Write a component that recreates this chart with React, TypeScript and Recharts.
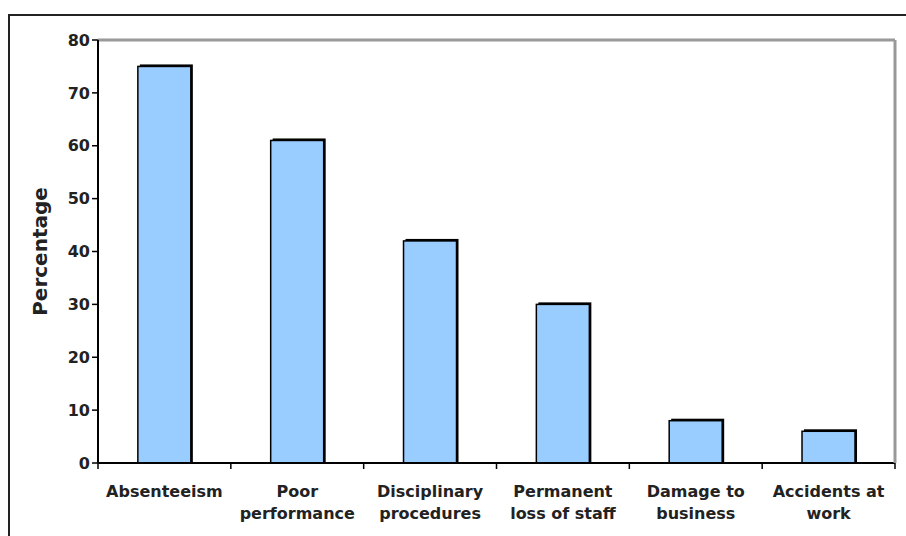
import React from "react"
import { BarChart, Bar, XAxis, YAxis, ReferenceLine } from "recharts"

const categories = [
  "Absenteeism",
  "Poor\nperformance",
  "Disciplinary\nprocedures",
  "Permanent\nloss of staff",
  "Damage to\nbusiness",
  "Accidents at\nwork",
]
const percentages = [75, 61, 42, 30, 8, 6]
const yTicks = [0, 10, 20, 30, 40, 50, 60, 70, 80]

const data = categories.map((name, i) => ({ name, value: percentages[i] }))

const FONT = "'DejaVu Sans', Verdana, sans-serif"

// bar with a dark offset edge on top and right, like the old excel look
const ShadowBar = (props: any) => {
  const { x, y, width, height } = props
  if (!height || height <= 0) return null
  return (
    <g>
      <rect x={x + 2} y={y - 2} width={width} height={height + 2} fill="#000" />
      <rect x={x} y={y} width={width} height={height} fill="#99ccff" stroke="#000" strokeWidth={1.5} />
    </g>
  )
}

// label in two lines + tick marks on the category boundaries
const CategoryTick = (props: any) => {
  const { x, y, payload, index } = props
  const lines = String(payload.value).split("\n")
  const half = payload.offset || 0
  const axisY = y - 8
  return (
    <g>
      <line x1={x - half} x2={x - half} y1={axisY} y2={axisY + 6} stroke="#000" strokeWidth={1.5} />
      {index === categories.length - 1 && (
        <line x1={x + half} x2={x + half} y1={axisY} y2={axisY + 6} stroke="#000" strokeWidth={1.5} />
      )}
      <text x={x} y={y} textAnchor="middle" fill="#222" fontSize={16} fontWeight="bold" fontFamily={FONT}>
        {lines.map((l, i) => (
          <tspan key={i} x={x} dy={i === 0 ? 26 : 22}>
            {l}
          </tspan>
        ))}
      </text>
    </g>
  )
}

export default function App() {
  return (
    <div style={{ position: "absolute", left: 0, top: 0, width: 906, height: 536, background: "#fff" }}>
      <div
        style={{
          position: "absolute",
          left: 8,
          top: 14,
          width: 910,
          height: 540,
          borderTop: "2px solid #222",
          borderLeft: "2px solid #222",
        }}
      />
      <div style={{ position: "absolute", left: 0, top: 0 }}>
        <BarChart
          width={906}
          height={536}
          data={data}
          margin={{ top: 40, right: 10, bottom: 0, left: 0 }}
          barCategoryGap="30%"
        >
          <XAxis
            dataKey="name"
            interval={0}
            height={73}
            tickLine={false}
            axisLine={{ stroke: "#000", strokeWidth: 2 }}
            tick={<CategoryTick />}
          />
          <YAxis
            domain={[0, 80]}
            ticks={yTicks}
            width={98}
            tickSize={6}
            tickLine={{ stroke: "#000", strokeWidth: 1.5 }}
            axisLine={{ stroke: "#000", strokeWidth: 2 }}
            tick={{ fontSize: 16, fontWeight: "bold", fill: "#222", fontFamily: FONT }}
            label={{
              value: "Percentage",
              angle: -90,
              position: "insideLeft",
              offset: 40,
              style: { fontSize: 20, fontWeight: "bold", fill: "#222", fontFamily: FONT, textAnchor: "middle" },
            }}
          />
          <YAxis
            yAxisId="frame"
            orientation="right"
            width={1}
            domain={[0, 80]}
            tick={false}
            tickLine={false}
            axisLine={{ stroke: "#999", strokeWidth: 3 }}
          />
          <ReferenceLine y={80} stroke="#999" strokeWidth={3} />
          <Bar dataKey="value" shape={<ShadowBar />} isAnimationActive={false} />
        </BarChart>
      </div>
    </div>
  )
}
